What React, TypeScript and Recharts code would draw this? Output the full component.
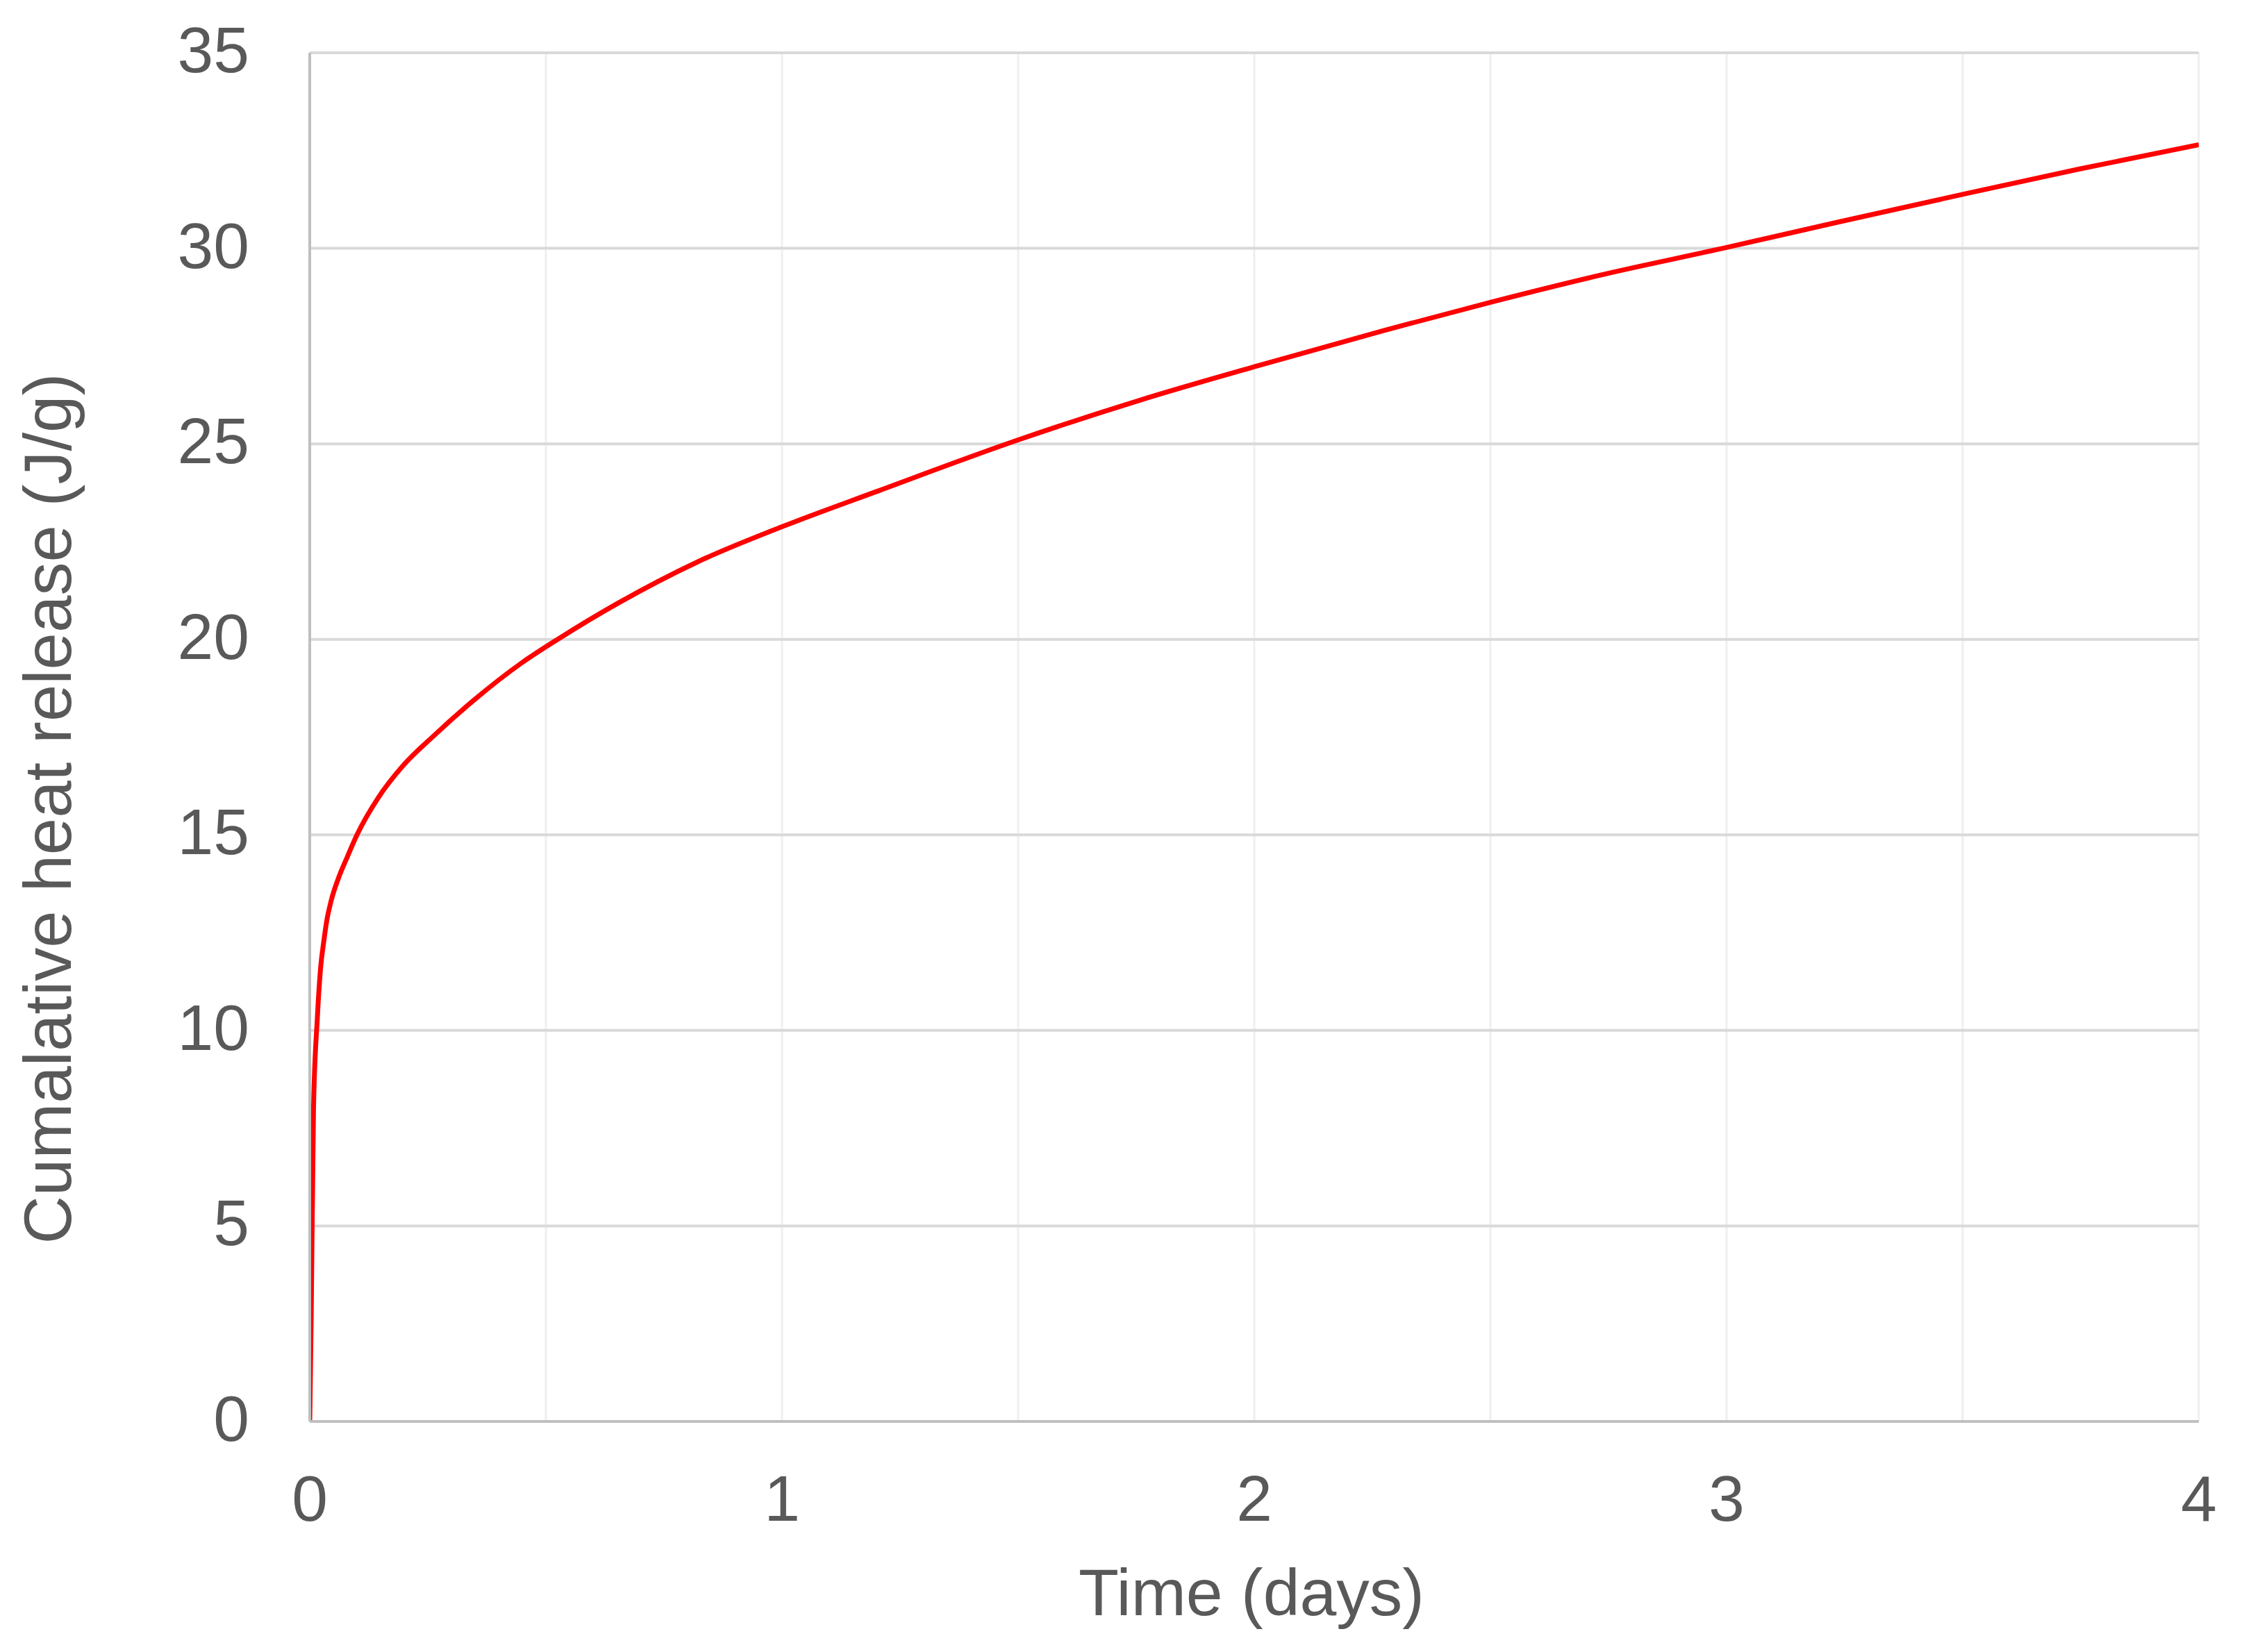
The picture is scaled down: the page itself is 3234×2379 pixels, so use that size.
import React from "react";
import { LineChart, Line, XAxis, YAxis, CartesianGrid, Label } from "recharts";

const days = [0, 0.003, 0.008, 0.016, 0.023, 0.03, 0.036, 0.045, 0.061, 0.08, 0.1, 0.145, 0.196, 0.264, 0.348, 0.449, 0.525, 0.652, 0.821, 1.0, 1.2, 1.5, 1.759, 2.0, 2.275, 2.5, 2.735, 3.0, 3.24, 3.5, 3.748, 4.0];
const heat = [0, 2.6, 8.0, 10.3, 11.6, 12.3, 12.8, 13.3, 13.9, 14.45, 15.0, 15.95, 16.75, 17.55, 18.45, 19.4, 20.0, 20.92, 21.98, 22.88, 23.78, 25.1, 26.12, 26.97, 27.9, 28.62, 29.32, 30.02, 30.68, 31.38, 32.03, 32.65];

const xTicks = [0, 0.5, 1, 1.5, 2, 2.5, 3, 3.5, 4];
const yTicks = [0, 5, 10, 15, 20, 25, 30, 35];

const xTitle = "Time (days)";
const yTitle = "Cumalative heat release (J/g)";

const data = days.map((d, i) => ({ day: d, heat: heat[i] }));

const FONT = "'Liberation Sans', Arial, sans-serif";
const TEXT = "#595959";

const XTick = (props: any) => {
  const { x, y, payload } = props;
  if (!Number.isInteger(payload.value)) return <g />;
  return (
    <text x={x} y={y} dy={143} textAnchor="middle" fontSize={93} fontFamily={FONT} fill={TEXT}>
      {payload.value}
    </text>
  );
};

const YTick = (props: any) => {
  const { x, y, payload } = props;
  return (
    <text x={x} y={y} dy={28} textAnchor="end" fontSize={93} fontFamily={FONT} fill={TEXT}>
      {payload.value}
    </text>
  );
};

const XLabel = (props: any) => {
  const vb = props.viewBox || { x: 446, y: 2047, width: 2720 };
  return (
    <text x={vb.x + vb.width / 2 - 4} y={vb.y + 279} textAnchor="middle" fontSize={95} fontFamily={FONT} fill={TEXT}>
      {xTitle}
    </text>
  );
};

const YLabel = (props: any) => {
  const vb = props.viewBox || { x: 0, y: 76, width: 446, height: 1971 };
  const cx = 102;
  const cy = vb.y + vb.height / 2 + 103;
  return (
    <text x={cx} y={cy} transform={`rotate(-90, ${cx}, ${cy})`} textAnchor="middle" fontSize={96} fontFamily={FONT} fill={TEXT}>
      {yTitle}
    </text>
  );
};

export default function App() {
  return (
    <div style={{ position: "absolute", left: 0, top: 0, width: 3234, height: 2379, background: "#ffffff" }}>
      <LineChart width={3234} height={2379} data={data} margin={{ top: 76, right: 68, bottom: 0, left: 0 }}>
        <CartesianGrid horizontal={false} vertical={true} stroke="#efefef" strokeWidth={3} />
        <CartesianGrid horizontal={true} vertical={false} stroke="#d9d9d9" strokeWidth={4} />
        <XAxis
          type="number"
          dataKey="day"
          domain={[0, 4]}
          ticks={xTicks}
          interval={0}
          height={332}
          tickSize={0}
          tickMargin={0}
          tickLine={false}
          axisLine={{ stroke: "#bfbfbf", strokeWidth: 4 }}
          tick={XTick}
          allowDataOverflow
        >
          <Label content={XLabel} />
        </XAxis>
        <YAxis
          type="number"
          domain={[0, 35]}
          ticks={yTicks}
          interval={0}
          width={446}
          tickSize={0}
          tickMargin={87}
          tickLine={false}
          axisLine={{ stroke: "#bfbfbf", strokeWidth: 4 }}
          tick={YTick}
          allowDataOverflow
        >
          <Label content={YLabel} />
        </YAxis>
        <Line
          type="monotone"
          dataKey="heat"
          stroke="#ff0000"
          strokeWidth={7}
          dot={false}
          isAnimationActive={false}
        />
      </LineChart>
    </div>
  );
}
